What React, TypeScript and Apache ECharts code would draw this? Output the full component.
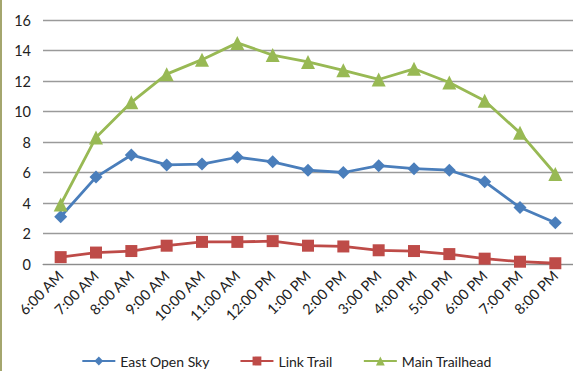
import React, { useEffect, useRef } from "react";
import * as echarts from "echarts";

const categories = ["6:00 AM", "7:00 AM", "8:00 AM", "9:00 AM", "10:00 AM", "11:00 AM", "12:00 PM", "1:00 PM", "2:00 PM", "3:00 PM", "4:00 PM", "5:00 PM", "6:00 PM", "7:00 PM", "8:00 PM"];
const eastOpenSky = [3.1, 5.7, 7.15, 6.5, 6.55, 7.0, 6.7, 6.15, 6.0, 6.45, 6.25, 6.15, 5.4, 3.7, 2.7];
const linkTrail = [0.45, 0.75, 0.85, 1.2, 1.45, 1.45, 1.5, 1.2, 1.15, 0.9, 0.85, 0.65, 0.35, 0.15, 0.05];
const mainTrailhead = [3.9, 8.3, 10.6, 12.45, 13.4, 14.5, 13.7, 13.25, 12.7, 12.1, 12.8, 11.9, 10.7, 8.6, 5.9];

const FONT = "Lato, 'Open Sans', sans-serif";

export default function App() {
  const ref = useRef<HTMLDivElement>(null);
  useEffect(() => {
    if (!ref.current) return;
    const chart = echarts.init(ref.current, null, { renderer: "svg" });
    const mk = (name: string, data: number[], color: string, symbol: string, size: number) => ({
      name,
      type: "line",
      data,
      symbol,
      symbolSize: size,
      lineStyle: { color, width: 2.8 },
      itemStyle: { color },
      color,
    });
    chart.setOption({
      animation: false,
      backgroundColor: "#ffffff",
      textStyle: { fontFamily: FONT },
      grid: { left: 43, right: -8, top: 20, bottom: 107 },
      legend: {
        bottom: -2,
        left: "center",
        itemWidth: 33,
        itemHeight: 11,
        itemGap: 30,
        textStyle: { fontFamily: FONT, fontSize: 14, color: "#222" },
        data: ["East Open Sky", "Link Trail", "Main Trailhead"],
      },
      xAxis: {
        type: "category",
        data: categories,
        boundaryGap: true,
        axisLine: { lineStyle: { color: "#8c8c8c", width: 1 } },
        axisTick: { show: false },
        axisLabel: { rotate: 45, margin: 9, fontFamily: FONT, fontSize: 14.5, color: "#222", interval: 0 },
      },
      yAxis: {
        type: "value",
        min: 0,
        max: 16,
        interval: 2,
        axisLine: { show: false },
        axisTick: { show: false },
        axisLabel: { margin: 12, fontFamily: FONT, fontSize: 14.5, color: "#222" },
        splitLine: { lineStyle: { color: "#9a9a9a", width: 1.3 } },
      },
      graphic: [
        { type: "rect", left: 0, top: 0, shape: { width: 2, height: 371 }, style: { fill: "#a4a66e" } },
      ],
      series: [
        mk("East Open Sky", eastOpenSky, "#4a7ebb", "diamond", 13),
        mk("Link Trail", linkTrail, "#be4b48", "rect", 12),
        mk("Main Trailhead", mainTrailhead, "#98b954", "triangle", 14),
      ],
    });
    return () => chart.dispose();
  }, []);
  return <div ref={ref} style={{ position: "fixed", left: 0, top: 0, width: 573, height: 371 }} />;
}
